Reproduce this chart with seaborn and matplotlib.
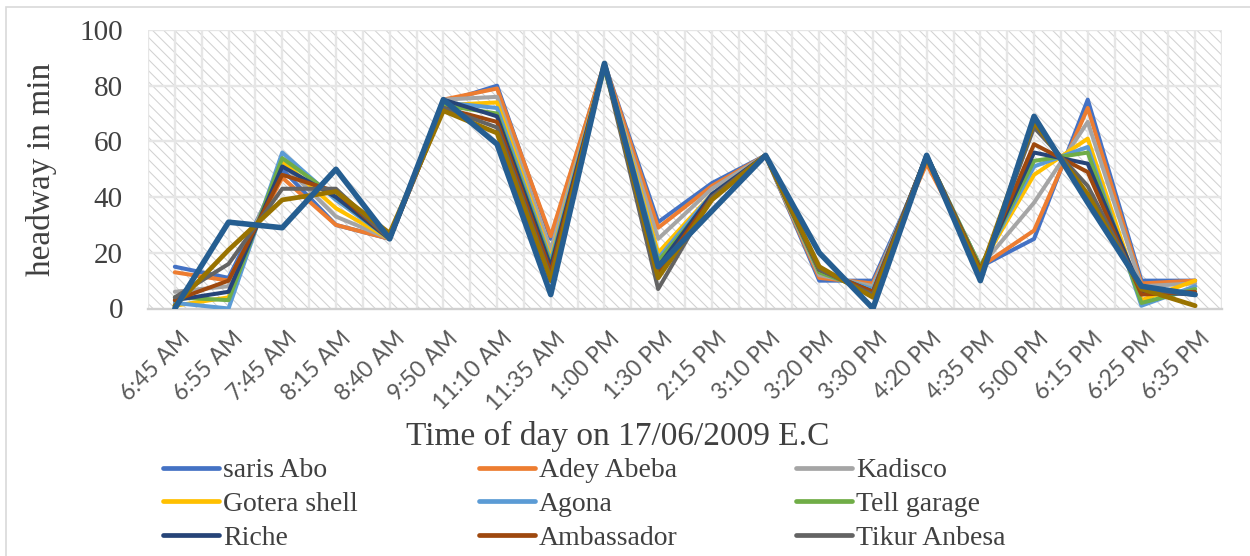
import numpy as np
import pandas as pd
import matplotlib
matplotlib.use("Agg")
import matplotlib.pyplot as plt
from matplotlib.patches import Rectangle
from matplotlib.lines import Line2D
import matplotlib.transforms as mtransforms
import seaborn as sns

# ---------------- data ----------------
categories = ["6:45 AM", "6:55 AM", "7:45 AM", "8:15 AM", "8:40 AM", "9:50 AM",
              "11:10 AM", "11:35 AM", "1:00 PM", "1:30 PM", "2:15 PM", "3:10 PM",
              "3:20 PM", "3:30 PM", "4:20 PM", "4:35 PM", "5:00 PM", "6:15 PM",
              "6:25 PM", "6:35 PM"]

saris_abo    = [15, 11, 50, 30, 25, 74, 80, 25, 88, 31, 45, 55, 10, 10, 53, 15, 25, 75, 10, 10]
adey_abeba   = [13, 10, 47, 30, 25, 75, 79, 26, 88, 29, 44, 55, 11,  9, 52, 15, 28, 72,  9, 10]
kadisco      = [ 6,  8, 52, 33, 25, 75, 76, 21, 87, 25, 43, 55, 12,  8, 54, 15, 38, 67,  8,  9]
gotera_shell = [ 1,  4, 53, 36, 25, 73, 74, 18, 88, 20, 41, 55, 13,  7, 54, 15, 48, 61,  3, 10]
agona        = [ 2,  0, 56, 39, 25, 74, 72, 17, 88, 18, 41, 55, 13,  7, 55, 15, 51, 58,  1,  8]
tell_garage  = [ 4,  3, 54, 40, 25, 73, 70, 16, 86, 17, 40, 55, 13,  6, 55, 15, 53, 56,  2,  7]
riche        = [ 3,  6, 51, 40, 25, 75, 69, 15, 88, 15, 41, 55, 14,  6, 55, 14, 56, 52,  6,  5]
ambassador   = [ 3, 10, 48, 42, 25, 72, 67, 13, 88, 13, 40, 55, 14,  6, 55, 14, 59, 49,  5,  6]
tikur_anbesa = [ 4, 16, 43, 43, 25, 72, 65, 11, 87,  7, 40, 55, 14,  5, 55, 13, 65, 44,  7,  5]
series_10    = [ 1, 21, 39, 42, 27, 71, 63, 10, 88, 11, 39, 55, 15,  4, 54, 13, 67, 41,  7,  1]
series_11    = [ 0, 31, 29, 50, 25, 75, 59,  5, 88, 15, 35, 55, 20,  0, 55, 10, 69, 38,  8,  5]

series_names = ["saris Abo", "Adey Abeba", "Kadisco", "Gotera shell", "Agona",
                "Tell garage", "Riche", "Ambassador", "Tikur Anbesa",
                "Series 10", "Series 11"]
series_values = [saris_abo, adey_abeba, kadisco, gotera_shell, agona, tell_garage,
                 riche, ambassador, tikur_anbesa, series_10, series_11]
legend_names = series_names[:9]

colors = ["#4472C4", "#ED7D31", "#A5A5A5", "#FFC000", "#5B9BD5", "#70AD47",
          "#264478", "#9E480E", "#636363", "#997300", "#255E91"]
widths = [2.9, 2.9, 2.9, 2.9, 2.9, 2.9, 2.9, 2.9, 2.9, 3.4, 4.0]

rows = []
for name, vals in zip(series_names, series_values):
    for i, v in enumerate(vals):
        rows.append({"series": name, "pos": i, "time": categories[i], "headway": v})
df = pd.DataFrame(rows)

# ---------------- figure ----------------
sns.set_theme(style="white")
plt.rcParams["font.family"] = ["Liberation Serif", "DejaVu Serif"]
plt.rcParams["hatch.linewidth"] = 0.75
plt.rcParams["hatch.color"] = "#d2d2d2"

W, H = 1250, 556
fig = plt.figure(figsize=(W / 100, H / 100), dpi=100)
ax = fig.add_axes([148 / W, (H - 308.5) / H, 1074 / W, 278.5 / H])
ax.set_xlim(-0.5, len(categories) - 0.5)
ax.set_ylim(0, 100)

# hatched background
ax.add_patch(Rectangle((0, 0), 1, 1, transform=ax.transAxes, facecolor="white",
                       hatch="\\\\\\", edgecolor="#d2d2d2", linewidth=0, zorder=0))

# gridlines
for xv in np.arange(-0.5, len(categories), 0.5):
    ax.axvline(xv, color="#e6e6e6", lw=1.7, zorder=1)
for yv in range(20, 101, 20):
    ax.axhline(yv, color="#e6e6e6", lw=1.7, zorder=1)

for name, c, lw in zip(series_names, colors, widths):
    sub = df[df["series"] == name]
    sns.lineplot(data=sub, x="pos", y="headway", color=c, linewidth=lw, ax=ax,
                 sort=False, legend=False, zorder=3)

for s in ["top", "right", "left"]:
    ax.spines[s].set_visible(False)
ax.spines["bottom"].set_color("#d0d0d0")
ax.spines["bottom"].set_linewidth(1.7)
ax.spines["bottom"].set_zorder(2)

ax.set_yticks(range(0, 101, 20))
ax.tick_params(axis="y", length=0, pad=18, labelsize=21, labelcolor="#404040")
ax.set_xticks(range(len(categories)))
ax.set_xticklabels(categories, rotation=45, ha="right", rotation_mode="anchor",
                   family=["Lato", "DejaVu Sans"], fontsize=16.5, color="#595959")
ax.tick_params(axis="x", length=0, pad=14)
offset = mtransforms.ScaledTranslation(4 / 100, 0, fig.dpi_scale_trans)
for lab in ax.get_xticklabels():
    lab.set_transform(lab.get_transform() + offset)

ax.set_xlabel("")
ax.set_ylabel("headway in min", fontsize=24, color="#404040")
ax.yaxis.set_label_coords(-0.085, 0.5)
fig.text(618 / W, 1 - 436 / H, "Time of day on 17/06/2009 E.C", ha="center",
         va="center", fontsize=24, color="#404040")

# legend: three columns
col_x = [163, 479, 796]
for ci in range(3):
    names = [legend_names[ci + 3 * r] for r in range(3)]
    handles = [Line2D([0], [0], color=colors[series_names.index(n)], lw=3.4) for n in names]
    fig.legend(handles, names, loc="upper left",
               bbox_to_anchor=(col_x[ci] / W, 1 - 458 / H), frameon=False,
               fontsize=20, handlelength=2.0, handletextpad=0.15, labelspacing=0.3,
               borderpad=0, borderaxespad=0, labelcolor="#404040")

# outer chart border
fig.patches.append(Rectangle((6 / W, -0.05), 1.2, 1 - 7 / H + 0.05,
                             transform=fig.transFigure, fill=False,
                             edgecolor="#d9d9d9", linewidth=1.2))

fig.savefig("out.png", dpi=100)
